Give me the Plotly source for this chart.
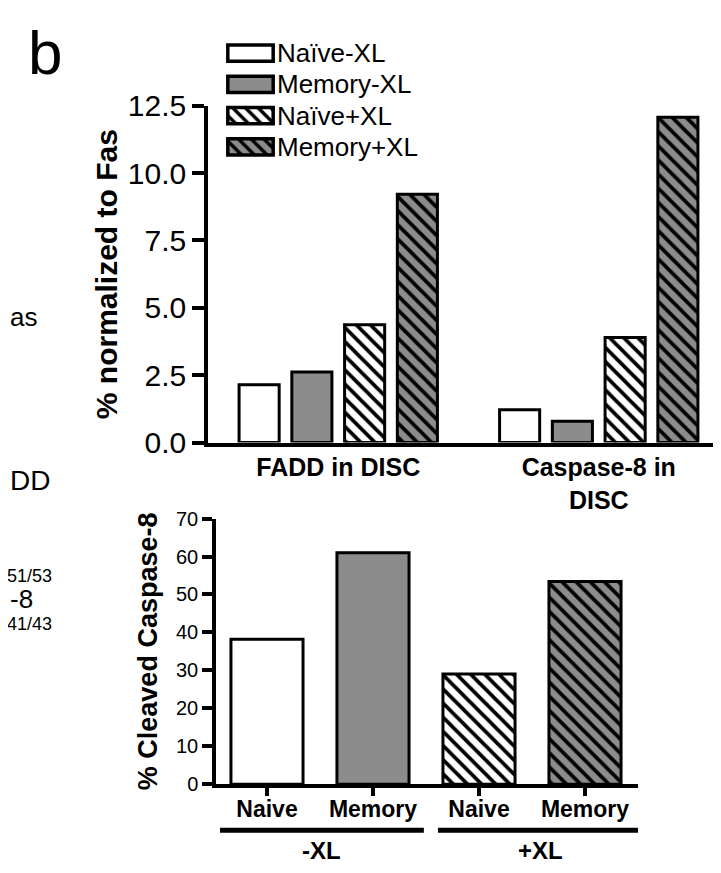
import plotly.graph_objects as go

W, H = 721, 873
def px(p): return p / W
def py(p): return 1 - p / H

# ---------------- data ----------------
disc_categories = ["FADD in DISC", "Caspase-8 in<br>DISC"]
series_names = ["Naïve-XL", "Memory-XL", "Naïve+XL", "Memory+XL"]
naive_minus = [2.15, 1.22]
memory_minus = [2.62, 0.79]
naive_plus = [4.37, 3.90]
memory_plus = [9.22, 12.07]
top_values = [naive_minus, memory_minus, naive_plus, memory_plus]
top_ticks = [0, 2.5, 5.0, 7.5, 10.0, 12.5]

cleaved_keys = ["Naive -XL", "Memory -XL", "Naive +XL", "Memory +XL"]
cleaved_labels = ["Naive", "Memory", "Naive", "Memory"]
cleaved_values = [38.2, 61.0, 29.0, 53.4]
cleaved_ticks = [0, 10, 20, 30, 40, 50, 60, 70]
group_labels = ["-XL", "+XL"]
legend_swatch = [1, 1, 1, 1]

# ---------------- styles ----------------
GRAY = "#8c8c8c"
fills = ["white", GRAY, "white", GRAY]
shapes_pat = ["", "", "\\", "\\"]
FONT = "Liberation Sans, Arial, Helvetica, sans-serif"
LW = 3.5


def marker(fc, sh, lw=3, size=10):
    m = dict(color=fc, line=dict(color="black", width=lw))
    if sh:
        m["pattern"] = dict(shape=sh, fgcolor="black", bgcolor=fc,
                            size=size, solidity=0.38, fillmode="replace")
    return m


fig = go.Figure()

# top chart: grouped bars
for name, vals, fc, sh in zip(series_names, top_values, fills, shapes_pat):
    fig.add_trace(go.Bar(x=disc_categories, y=vals, name=name, showlegend=False,
                         marker=marker(fc, sh), xaxis="x", yaxis="y"))

# bottom chart: one bar per condition (same offset group -> centred on category)
for key, val, fc, sh in zip(cleaved_keys, cleaved_values, fills, shapes_pat):
    fig.add_trace(go.Bar(x=[key], y=[val], width=0.68, offsetgroup="cleaved",
                         showlegend=False, marker=marker(fc, sh),
                         xaxis="x2", yaxis="y2"))

# legend key drawn as a small horizontal-bar panel
for name, v, fc, sh in zip(series_names, legend_swatch, fills, shapes_pat):
    fig.add_trace(go.Bar(y=[name], x=[v], orientation="h", width=0.52,
                         offsetgroup="legend", showlegend=False,
                         marker=marker(fc, sh, lw=3.5, size=9),
                         xaxis="x3", yaxis="y3", hoverinfo="skip"))

axis_common = dict(showgrid=False, zeroline=False, linecolor="black", linewidth=LW,
                   tickcolor="black", tickwidth=LW)

fig.update_layout(
    width=W, height=H, margin=dict(l=0, r=0, t=0, b=0),
    paper_bgcolor="white", plot_bgcolor="rgba(0,0,0,0)",
    barmode="group", bargap=0.19, bargroupgap=0.24,
    font=dict(family=FONT, color="black"),
    xaxis=dict(domain=[px(200), 1], range=[-0.5, 1.5], showline=True, ticks="",
               tickfont=dict(size=25, family=FONT, weight="bold"), ticklabelstandoff=0,
               anchor="y", showgrid=False, zeroline=False, linecolor="black", linewidth=LW),
    yaxis=dict(domain=[py(435), py(85)], range=[0, 12.5], showline=True, ticks="outside",
               ticklen=12, tickvals=top_ticks, tickformat=".1f",
               tickfont=dict(size=30, family=FONT), anchor="x",
               title=dict(text="<b>% normalized to Fas</b>", font=dict(size=30, family=FONT),
                          standoff=2),
               **axis_common),
    xaxis2=dict(domain=[px(208), px(630)], range=[-0.481, 3.5], showline=True,
                ticks="outside", ticklen=8, tickvals=cleaved_keys, ticktext=cleaved_labels,
                tickfont=dict(size=23, family=FONT, weight="bold"), anchor="y2",
                ticklabelstandoff=-6, **axis_common),
    yaxis2=dict(domain=[py(790), py(514)], range=[0, 70], showline=True, ticks="outside",
                ticklen=10, tickvals=cleaved_ticks, tickfont=dict(size=20, family=FONT),
                anchor="x2",
                title=dict(text="<b>% Cleaved Caspase-8</b>", font=dict(size=27, family=FONT),
                           standoff=12),
                **axis_common),
    xaxis3=dict(domain=[px(218), px(267)], range=[-0.04, 1.04], visible=False, anchor="y3"),
    yaxis3=dict(domain=[py(144), py(14)], range=[3.5, -0.5], side="right", anchor="x3",
                showline=False, showgrid=False, zeroline=False, ticks="",
                ticklabelstandoff=1, tickfont=dict(size=26, family=FONT)),
)

# group underlines and labels in bottom chart
for (x0, x1), lab in zip([(-0.443, 1.48), (1.613, 3.547)], group_labels):
    fig.add_shape(type="line", xref="x2", yref="paper", x0=x0, x1=x1,
                  y0=py(838), y1=py(838), line=dict(color="black", width=5))
    fig.add_annotation(xref="x2", yref="paper", x=(x0 + x1) / 2, y=py(859),
                       text=f"<b>{lab}</b>", showarrow=False,
                       font=dict(size=24, family=FONT), yanchor="middle")

# panel letter and cut-off neighbouring text
side_texts = [
    ("b", 18, 30, 62, "left"),
    ("as", 0, 304, 26, "left"),
    ("DD", 0, 474, 28, "left"),
    ("51/53", 46, 574, 18, "right"),
    ("-8", 0, 598, 26, "left"),
    ("41/43", 46, 624, 18, "right"),
]
for txt, x, y, size, anchor in side_texts:
    fig.add_annotation(xref="paper", yref="paper", x=px(x), y=py(y), text=txt,
                       showarrow=False, xanchor=anchor, yanchor="middle",
                       font=dict(size=size, family=FONT))

fig.write_html("out.html")
